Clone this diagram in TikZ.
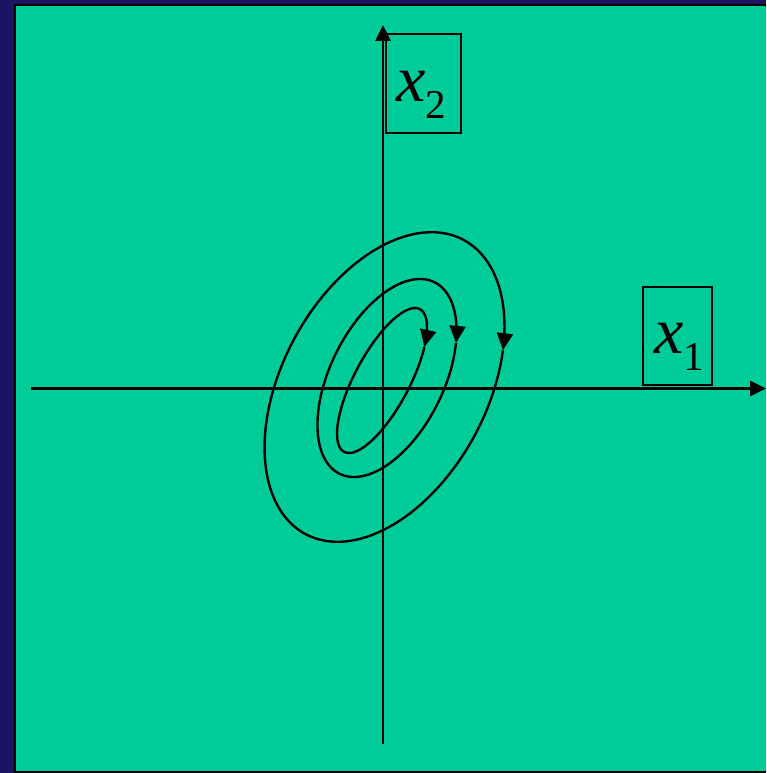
\documentclass[tikz,border=0pt]{standalone}
\usepackage{fontspec}
\setmainfont{Liberation Serif}
\usetikzlibrary{arrows.meta}
\definecolor{navy}{RGB}{28,20,98}
\definecolor{bggreen}{RGB}{0,204,153}
\tikzset{
  axisline/.style={line width=2.6pt, -{Triangle[length=16pt,width=15pt]}},
  orbit/.style={line width=2.4pt, -{Triangle[length=17pt,width=16pt]}},
  labelbox/.style={draw, line width=1.7pt, inner sep=0pt},
  axislabel/.style={inner sep=0pt, anchor=base west}
}
\newcommand{\biglabel}[2]{{\fontsize{66}{66}\selectfont\textit{#1}}\raisebox{-17pt}{\fontsize{41}{41}\selectfont #2}}
\begin{document}
\begin{tikzpicture}[x=1pt,y=-1pt]
\useasboundingbox (0,0) rectangle (766,773);
\fill[navy] (0,0) rectangle (766,773);
\fill[black] (14,4) rectangle (766,773);
\fill[bggreen] (16,6) rectangle (766,771);
% boxes
\node[labelbox, minimum width=75pt, minimum height=99pt] (x2box) at (423.5,83.5) {};
\node[axislabel] (x2lab) at (396,102) {\biglabel{x}{2}};
\node[labelbox, minimum width=69pt, minimum height=98pt] (x1box) at (677.5,336) {};
\node[axislabel] (x1lab) at (654,353) {\biglabel{x}{1}};
% axes
\coordinate (xl) at (31,388.5);
\coordinate (xr) at (766,388.5);
\coordinate (yb) at (383,744);
\coordinate (yt) at (383,25);
\draw[axisline] (xl) -- (xr);
\draw[axisline] (yb) -- (yt);
% orbits
\begin{scope}[shift={(384.5,387)}, yscale=-1]
\draw[orbit] plot[domain=0:360, samples=241, smooth] ({79.2*cos(-58-\x) - 90.1*sin(-58-\x)}, {147*cos(-58-\x) + 48.5*sin(-58-\x)});
\end{scope}
\begin{scope}[shift={(387,378)}, yscale=-1]
\draw[orbit] plot[domain=0:360, samples=241, smooth] ({47.5*cos(-54.5-\x) - 50.8*sin(-54.5-\x)}, {95.75*cos(-54.5-\x) + 25.2*sin(-54.5-\x)});
\end{scope}
\begin{scope}[shift={(382,380.5)}, yscale=-1]
\draw[orbit] plot[domain=0:360, samples=241, smooth] ({37.9*cos(-52-\x) - 24.2*sin(-52-\x)}, {71.3*cos(-52-\x) + 12.9*sin(-52-\x)});
\end{scope}
\end{tikzpicture}
\end{document}
